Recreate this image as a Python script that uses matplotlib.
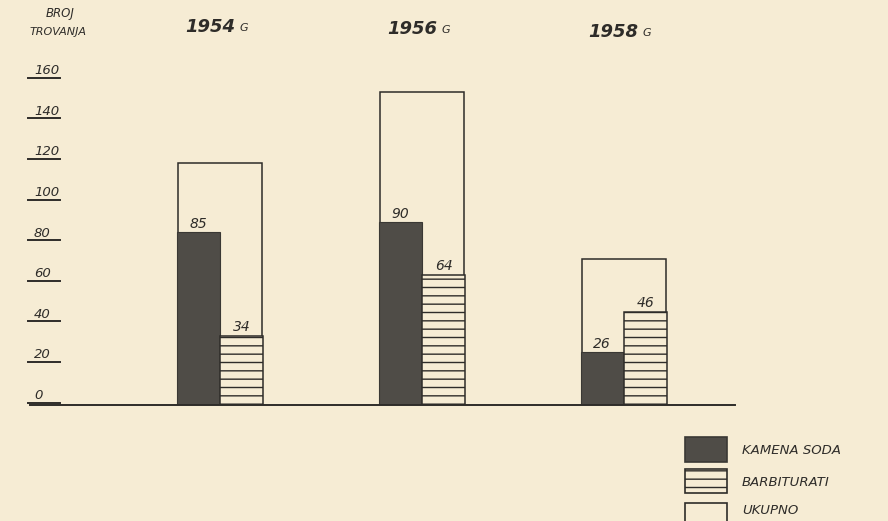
import matplotlib
matplotlib.use("Agg")
import matplotlib.pyplot as plt
import matplotlib.transforms as mtransforms
from matplotlib.patches import Rectangle

# ---- data ----
years = ["1954", "1956", "1958"]
kamena_soda = [85, 90, 26]
barbiturati = [34, 64, 46]
ukupno = [k + b for k, b in zip(kamena_soda, barbiturati)]
y_ticks = [0, 20, 40, 60, 80, 100, 120, 140, 160]
legend_labels = ["KAMENA SODA", "BARBITURATI", "UKUPNO"]
y_title = ["BROJ", "TROVANJA"]

paper = "#f6ecd4"
ink = "#2e2c29"
dark = "#4f4c47"

W, H = 888, 521
fig = plt.figure(figsize=(W / 100, H / 100), dpi=100, facecolor=paper)

px_per_unit = 2.03
base_px = 405
top_px = 50
left_px, right_px = 30, 735
ax = fig.add_axes([left_px / W, (H - base_px) / H, (right_px - left_px) / W, (base_px - top_px) / H])
ax.set_facecolor("none")
group_px = 202.0
first_center_px = 220
x0 = -(first_center_px - left_px) / group_px
x1 = x0 + (right_px - left_px) / group_px
ax.set_xlim(x0, x1)
ax.set_ylim(0, (base_px - top_px) / px_per_unit)
for s in ax.spines.values():
    s.set_visible(False)
ax.set_xticks([])
ax.set_yticks([])

pos = list(range(len(years)))
bw = 0.215
tw = 0.415

plt.rcParams["hatch.linewidth"] = 1.0

# totals (outline)
ax.bar(pos, ukupno, width=tw, facecolor="none", edgecolor=ink, linewidth=1.1, zorder=1)
# kamena soda
ax.bar([p - bw / 2 for p in pos], kamena_soda, width=bw, facecolor=dark, edgecolor="#3a3834",
       linewidth=0.8, zorder=2)
# barbiturati
ax.bar([p + bw / 2 for p in pos], barbiturati, width=bw, facecolor=paper, edgecolor=ink,
       hatch="--", linewidth=1.1, zorder=2)

lab_font = dict(fontsize=10, style="italic", color=ink, family="DejaVu Sans")
for p, k, b in zip(pos, kamena_soda, barbiturati):
    ax.text(p - bw / 2, k + 0.8, str(k), ha="center", va="bottom", **lab_font)
    ax.text(p + bw / 2, b + 0.8, str(b), ha="center", va="bottom", **lab_font)

# baseline
ax.plot([x0, x1], [0, 0], color=ink, lw=1.4, clip_on=False, zorder=3)

# y tick labels with underlines
tr = mtransforms.blended_transform_factory(ax.transAxes, ax.transData)
for t in y_ticks:
    xa = (34 - left_px) / (right_px - left_px)
    ax.text(xa, t + 1.5, str(t), transform=tr, ha="left", va="bottom",
            fontsize=9.5, style="italic", color=ink, clip_on=False)
    ax.plot([(28 - left_px) / (right_px - left_px), (60 - left_px) / (right_px - left_px)],
            [t + 1.2, t + 1.2], transform=tr, color=ink, lw=1.4, clip_on=False)

# y-axis title
fig.text(60 / W, 1 - 14 / H, y_title[0], ha="center", va="center", fontsize=8.5,
         style="italic", color=ink)
fig.text(58 / W, 1 - 32 / H, y_title[1], ha="center", va="center", fontsize=8,
         style="italic", color=ink)

# year headers
year_px = [(185, 27), (387, 29), (588, 32)]
for (xp, yp), yr in zip(year_px, years):
    fig.text(xp / W, 1 - yp / H, yr, ha="left", va="center", fontsize=13,
             fontweight="bold", style="italic", color=ink)
    fig.text((xp + 54) / W, 1 - (yp + 1) / H, "G", ha="left", va="center", fontsize=8,
             style="italic", color=ink)

# legend
boxes = [(685, 437, 462), (685, 469, 493), (685, 503, 528)]
text_y = [450, 482, 510]
styles = [dict(facecolor=dark, edgecolor="#3a3834", hatch=None),
          dict(facecolor=paper, edgecolor=ink, hatch="--"),
          dict(facecolor="none", edgecolor=ink, hatch=None)]
for (xb, yt, yb), ty, st, lab in zip(boxes, text_y, styles, legend_labels):
    r = Rectangle((xb / W, 1 - yb / H), 42 / W, (yb - yt) / H, transform=fig.transFigure,
                  linewidth=1.2, clip_on=False, **st)
    fig.patches.append(r)
    fig.text(742 / W, 1 - ty / H, lab, ha="left", va="center",
             fontsize=9.5, style="italic", color=ink)

fig.savefig("out.png", dpi=100, facecolor=paper)
